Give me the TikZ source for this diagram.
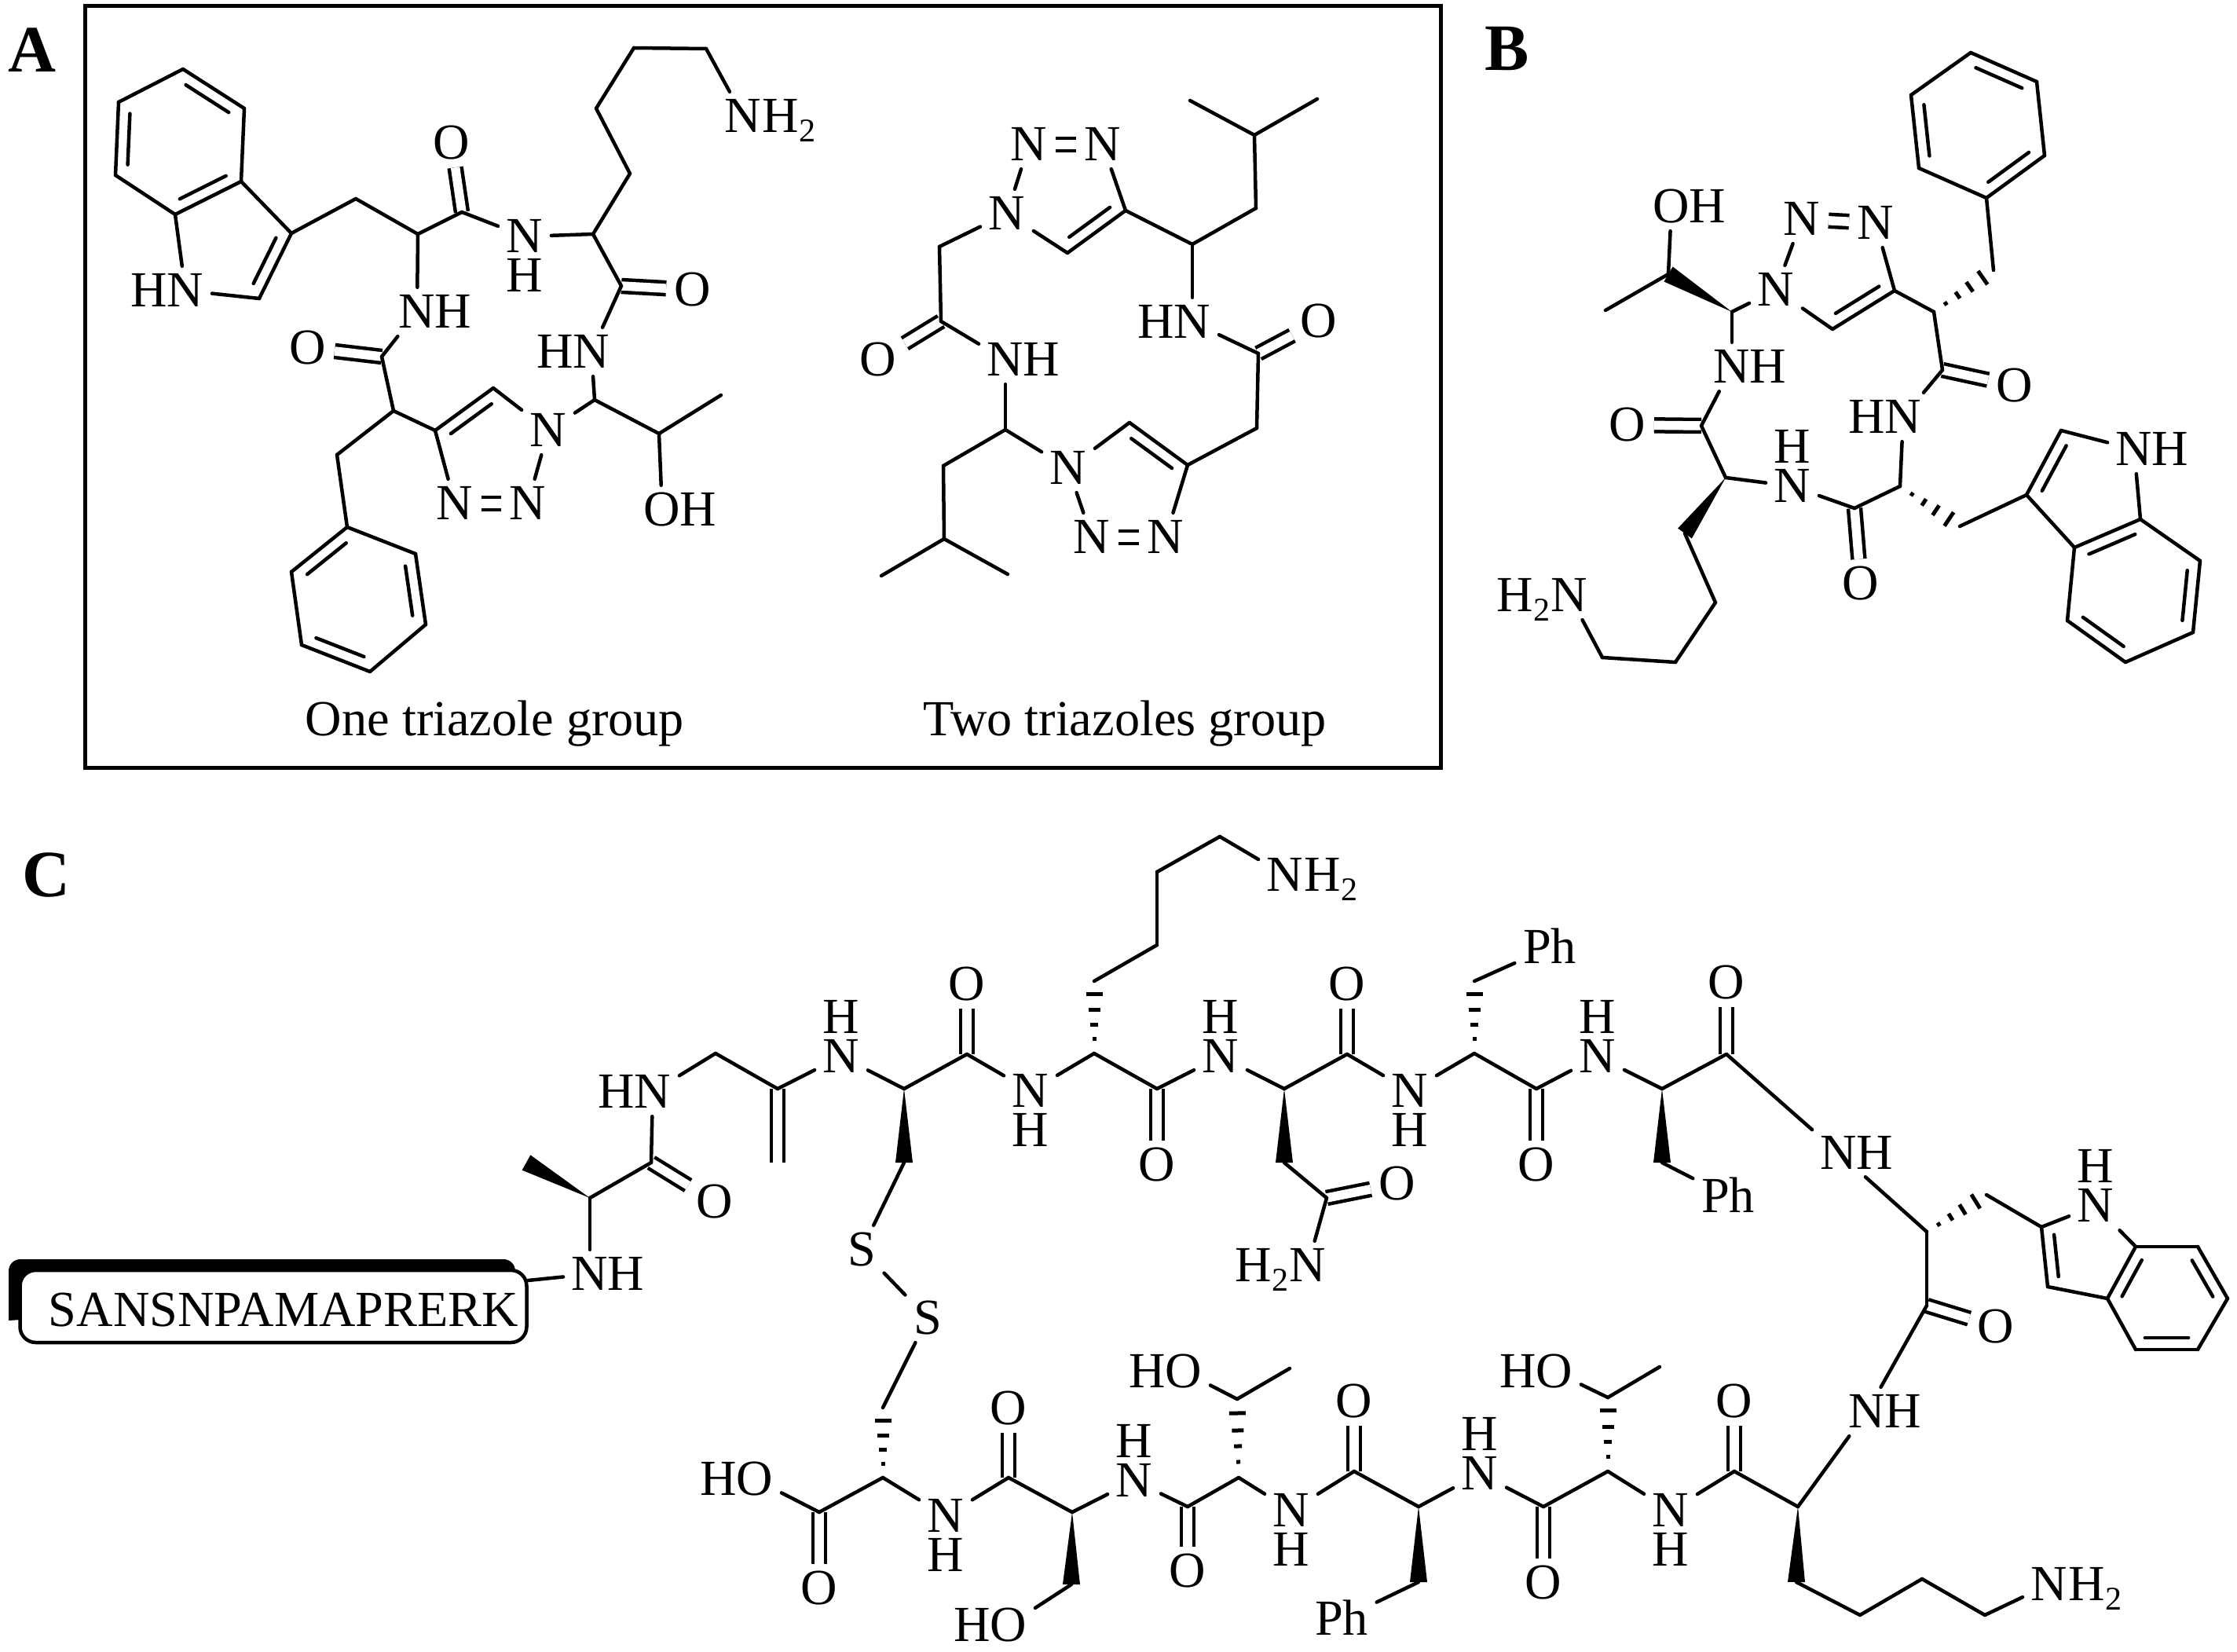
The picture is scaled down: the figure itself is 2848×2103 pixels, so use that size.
\documentclass[tikz,border=0pt]{standalone}
\usepackage{fontspec}
\setmainfont{Liberation Serif}
\usetikzlibrary{positioning,calc}

\newcommand{\subtwo}{\raisebox{-1.2mm}{\fontsize{12}{12}\selectfont 2}}
% N with its H stacked above or below, as one text
\newcommand{\nup}{N\llap{\raisebox{5mm}[0pt][0pt]{H}}}
\newcommand{\ndown}{N\llap{\raisebox{-5mm}[0pt][0pt]{H}}}
% second line of a ring double bond, on the left of #1 -> #2
\newcommand{\ringdbl}[2]{\draw[bond] ($(#1)!0.15!(#2)!1.5mm!90:(#2)$) -- ($(#2)!0.15!(#1)!1.5mm!-90:(#1)$);}
\newcommand{\wedgebond}[2]{\fill (#1) -- ($(#2)!1.1mm!90:(#1)$) -- ($(#2)!1.1mm!-90:(#1)$) -- cycle;}
\newcommand{\hashbond}[2]{\foreach \f/\w in {0.2/0.25,0.4/0.5,0.6/0.75,0.82/1.05} {
    \draw[hash] ($(#1)!\f!(#2)!\w mm!90:(#2)$) -- ($(#1)!\f!(#2)!\w mm!-90:(#2)$);
}}

\tikzset{
  atom/.style={inner sep=1mm,text height=4.1mm,text depth=0pt,font=\fontsize{18.3}{18.3}\selectfont},
  htail/.style={atom,inner sep=0pt},
  caption/.style={inner sep=0pt,font=\fontsize{18.3}{18.3}\selectfont},
  panel/.style={inner sep=0pt,font=\fontsize{24}{24}\selectfont\bfseries},
  bond/.style={line width=0.45mm,line cap=round},
  dblbond/.style={line width=0.45mm,line cap=butt,double,double distance=1.15mm},
  hash/.style={line width=0.5mm},
  frame/.style={line width=0.5mm},
  seqbox/.style={draw,line width=0.45mm,fill=white,rounded corners=2mm,minimum width=64.5mm,minimum height=9.2mm,inner sep=0pt}
}

\begin{document}
\begin{tikzpicture}[x=0.1mm,y=-0.1mm]
  \useasboundingbox (0,0) rectangle (2848,2103);
  \draw[frame] (108,8) rectangle (1834,977);
  \node[panel] (lblA) at (41,64) {A};
  \node[panel] (lblB) at (1919,62) {B};
  \node[panel] (lblC) at (59,1114) {C};
  \node[caption] (capone) at (630,921) {One triazole group};
  \node[caption] (captwo) at (1432,921) {Two triazoles group};

  % Panel A, one triazole
  \foreach \n/\x/\y in {a1/233/88,a2/311/138,a3/307/231,a4/223/273,a5/147/223,a6/151/130,
    a7/371/297,a8/330/380,a9/453/253,a10/532/298,a11/588/270,a12/755/298,a13/802/221,a14/759/138,
    a15/807/61,a16/899/62,a17/791/364,a18/757/509,a19/839/552,a20/918/503,a21/628/494,a22/554/548,
    a23/501/523,a24/486/454,a25/429/579,a26/442/671,a27/529/705,a28/542/795,a29/471/855,a30/384/821,a31/371/728} {
    \coordinate (\n) at (\x,\y);
  }
  \foreach \n/\x/\y/\lab in {an1/236/370/N,an2/668/301/\ndown,an3/946/148/N,
    ao1/575/182/O,ao2/882/369/O,an4/753/448/N,an5/698/548/N,an6/672/641/N,an7/579/641/N,
    ao3/843/649/O,an8/531/397/N,ao4/392/443/O} {
    \node[atom] (\n) at (\x,\y) {\lab};
  }
  \foreach \n/\x/\y in {an1h/190/370,an4h/707/448,ao3h/889/649,an8h/577/397} {
    \node[htail] (\n) at (\x,\y) {H};
  }
  \node[htail,right=-1mm of an3] (an3h) {H\subtwo};
  \foreach \p/\q in {a11/ao1,a17/ao2,a24/ao4,an6/an7} {
    \draw[dblbond] (\p) -- (\q);
  }
  \foreach \p/\q in {a1/a2,a2/a3,a3/a4,a4/a5,a5/a6,a6/a1,a3/a7,a7/a8,a8/an1,an1/a4,a7/a9,a9/a10,a10/a11,
    a11/an2,an2/a12,a12/a13,a13/a14,a14/a15,a15/a16,a16/an3,a12/a17,a17/an4,an4/a18,a18/an5,a18/a19,
    a19/a20,a19/ao3,an5/a21,a21/a22,a22/an7,an6/an5,a22/a23,a23/a24,a24/an8,an8/a10,a23/a25,a25/a26,
    a26/a27,a27/a28,a28/a29,a29/a30,a30/a31,a31/a26} {
    \draw[bond] (\p) -- (\q);
  }
  \foreach \p/\q in {a2/a1,a4/a3,a6/a5,a8/a7,a21/a22,a26/a31,a28/a27,a30/a29} {
    \ringdbl{\p}{\q}
  }

  % Panel A, two triazoles
  \foreach \n/\x/\y in {t1/1515/128,t2/1677/126,t3/1597/172,t4/1599/265,t5/1518/311,t6/1433/268,t7/1359/322,
    t8/1196/314,t9/1198/409,t10/1280/547,t11/1201/593,t12/1202/686,t13/1122/733,t14/1283/731,t15/1438/538,
    t16/1512/592,t17/1600/545,t18/1602/450} {
    \coordinate (\n) at (\x,\y);
  }
  \foreach \n/\x/\y/\lab in {tn1/1282/272/N,tn2/1310/184/N,tn3/1404/184/N,tn4/1518/410/N,
    to1/1118/458/O,tn5/1280/458/N,tn6/1360/596/N,tn7/1390/684/N,tn8/1484/684/N,to2/1679/409/O} {
    \node[atom] (\n) at (\x,\y) {\lab};
  }
  \foreach \n/\x/\y in {tn4h/1472/410,tn5h/1326/458} {
    \node[htail] (\n) at (\x,\y) {H};
  }
  \foreach \p/\q in {t9/to1,t18/to2,tn2/tn3,tn7/tn8} {
    \draw[dblbond] (\p) -- (\q);
  }
  \foreach \p/\q in {t1/t3,t2/t3,t3/t4,t4/t5,t5/tn4,t5/t6,t6/tn3,tn2/tn1,tn1/t7,t7/t6,tn1/t8,t8/t9,t9/tn5,
    tn5/t10,t10/t11,t11/t12,t12/t13,t12/t14,t10/tn6,tn6/tn7,tn8/t16,t16/t15,t15/tn6,t16/t17,t17/t18,t18/tn4} {
    \draw[bond] (\p) -- (\q);
  }
  \foreach \p/\q in {t7/t6,t16/t15} {
    \ringdbl{\p}{\q}
  }

  % Panel B
  \foreach \n/\x/\y in {b1/2509/67,b2/2593/104,b3/2603/198,b4/2529/252,b5/2443/214,b6/2433/121,b7/2538/344,
    b8/2462/397,b9/2412/370,b10/2333/419,b11/2473/471,b12/2419/619,b13/2361/647,b14/2495/670,b15/2580/630,
    b16/2624/548,b17/2725/661,b18/2641/697,b19/2632/790,b20/2706/843,b21/2792/805,b22/2801/714,b23/2197/608,
    b24/2166/542,b25/2205/397,b26/2124/349,b27/2044/395,b28/2145/679,b29/2184/767,b30/2133/843,b31/2040/837} {
    \coordinate (\n) at (\x,\y);
  }
  \foreach \n/\x/\y/\lab in {bn1/2261/369/N,bn2/2294/279/N,bn3/2388/284/N,bo1/2565/491/O,bn4/2423/531/N,
    bn5/2282/619/\nup,bo2/2369/743/O,bn6/2717/572/N,bn7/2205/467/N,bo3/2072/541/O,bo4/2128/263/O,bn8/1998/758/N} {
    \node[atom] (\n) at (\x,\y) {\lab};
  }
  \foreach \n/\x/\y in {bn4h/2377/531,bn6h/2763/572,bn7h/2251/467,bo4h/2174/263} {
    \node[htail] (\n) at (\x,\y) {H};
  }
  \node[htail,left=-1mm of bn8] (bn8h) {H\subtwo};
  \foreach \p/\q in {b11/bo1,b13/bo2,b24/bo3,bn2/bn3} {
    \draw[dblbond] (\p) -- (\q);
  }
  \foreach \p/\q in {b1/b2,b2/b3,b3/b4,b4/b5,b5/b6,b6/b1,b4/b7,b8/b9,b9/b10,b10/bn1,bn1/bn2,bn3/b9,b8/b11,
    b11/bn4,bn4/b12,b12/b13,b13/bn5,bn5/b23,b14/b15,b15/b16,b16/bn6,bn6/b17,b17/b18,b18/b15,b18/b19,b19/b20,
    b20/b21,b21/b22,b22/b17,b23/b24,b24/bn7,bn7/b25,b25/bn1,b26/bo4,b26/b27,b28/b29,b29/b30,b30/b31,b31/bn8} {
    \draw[bond] (\p) -- (\q);
  }
  \foreach \p/\q in {b2/b1,b4/b3,b6/b5,b10/b9,b16/b15,b17/b18,b19/b20,b21/b22} {
    \ringdbl{\p}{\q}
  }
  \foreach \p/\q in {b25/b26,b23/b28} {
    \wedgebond{\p}{\q}
  }
  \foreach \p/\q in {b8/b7,b12/b14} {
    \hashbond{\p}{\q}
  }

  % Panel C
  \fill (11,1681) [rounded corners=1.5mm] -- (11,1603) -- (656,1603) [sharp corners] -- (656,1640) -- cycle;
  \node[seqbox] (cbox) at (348,1663) {};
  \node[caption] (cseq) at (361,1668) {SANSNPAMAPRERK};
  \foreach \n/\x/\y in {c1/751/1525,c2/670/1480,c3/829/1480,c4/911/1341,c5/990/1386,c6/990/1480,c7/1151/1386,
    c8/1231/1342,c9/1393/1341,c10/1393/1249,c11/1473/1203,c12/1473/1110,c13/1553/1065,c14/1473/1386,c15/1635/1386,
    c16/1635/1480,c17/1689/1525,c18/1715/1342,c19/1877/1341,c20/1877/1249,c21/1956/1386,c22/2116/1386,c23/2116/1480,
    c24/2198/1342,c25/2453/1568,c26/2529/1521,c27/2599/1562,c28/2607/1638,c29/2683/1653,c30/2719/1587,c31/2798/1587,
    c32/2836/1653,c33/2798/1718,c34/2719/1718,c35/2453/1662,c36/2289/1918,c37/2287/2014,c38/2368/2056,c39/2447/2010,
    c40/2527/2056,c41/2208/1873,c42/2047/1873,c43/2047/1779,c44/2113/1740,c45/1965/1918,c46/1806/1918,c47/1806/2014,
    c48/1724/1873,c49/1577/1881,c50/1575/1781,c51/1642/1742,c52/1512/1918,c53/1365/1925,c54/1364/2017,c55/1284/1881,
    c56/1124/1881,c57/1124/1792,c58/1043/1925,c59/1151/1480} {
    \coordinate (\n) at (\x,\y);
  }
  \foreach \n/\x/\y/\lab in {cn1/751/1622/N,co1/910/1530/O,cn2/831/1390/N,cn3/1071/1345/\nup,co2/1231/1253/O,
    cn4/1312/1389/\ndown,co3/1473/1483/O,cn5/1636/1114/N,cn6/1554/1345/\nup,co4/1715/1253/O,co5/1779/1507/O,cn7/1665/1611/N,
    cn8/1795/1389/\ndown,cph1/1973/1206/Ph,co6/1956/1483/O,cn9/2034/1345/\nup,cph2/2200/1523/Ph,co7/2198/1251/O,
    cn10/2341/1468/N,cn11/2668/1535/\nup,co8/2541/1689/O,cn12/2377/1797/N,cn13/2609/2017/N,co9/2208/1784/O,
    cn14/2127/1923/\ndown,co10/1979/1746/O,co11/1965/2015/O,cn15/1884/1876/\nup,cph3/1708/2061/Ph,co12/1724/1784/O,
    cn16/1644/1923/\ndown,co13/1507/1746/O,co14/1512/2000/O,cn17/1444/1885/\nup,co15/1284/2069/O,co16/1284/1793/O,
    cn18/1204/1930/\ndown,cs1/1097/1591/S,cs2/1181/1678/S,co17/1043/2022/O,co18/961/1883/O} {
    \node[atom] (\n) at (\x,\y) {\lab};
  }
  \foreach \n/\x/\y in {cn1h/797/1622,cn2h/785/1390,cn10h/2387/1468,cn12h/2423/1797,co10h/1933/1746,
    co13h/1461/1746,co15h/1238/2069,co18h/915/1883} {
    \node[htail] (\n) at (\x,\y) {H};
  }
  \node[htail,right=-1mm of cn5] (cn5h) {H\subtwo};
  \node[htail,right=-1mm of cn13] (cn13h) {H\subtwo};
  \node[htail,left=-1mm of cn7] (cn7h) {H\subtwo};
  \foreach \p/\q in {c3/co1,c5/c6,c8/co2,c14/co3,c18/co4,c17/co5,c21/co6,c24/co7,c35/co8,c41/co9,c45/co11,
    c48/co12,c52/co14,c55/co16,c58/co17} {
    \draw[dblbond] (\p) -- (\q);
  }
  \foreach \p/\q in {cbox/cn1,cn1/c1,c1/c3,c3/cn2,cn2/c4,c4/c5,c5/cn3,cn3/c7,c7/c8,c8/cn4,cn4/c9,c9/c14,c14/cn6,
    cn6/c15,c15/c18,c18/cn8,cn8/c19,c19/c21,c21/cn9,cn9/c22,c22/c24,c24/cn10,cn10/c25,c25/c35,c35/cn12,cn12/c36,
    c36/c41,c41/cn14,cn14/c42,c42/c45,c45/cn15,cn15/c46,c46/c48,c48/cn16,cn16/c49,c49/c52,c52/cn17,cn17/c53,
    c53/c55,c55/cn18,cn18/c56,c56/c58,c58/co18,c10/c11,c11/c12,c12/c13,c13/cn5,c16/c17,c17/cn7,c20/cph1,c23/cph2,
    c26/c27,c27/cn11,cn11/c30,c30/c29,c29/c28,c28/c27,c30/c31,c31/c32,c32/c33,c33/c34,c34/c29,c37/c38,c38/c39,
    c39/c40,c40/cn13,c43/co10,c43/c44,c47/cph3,c50/co13,c50/c51,c54/co15,c57/cs2,cs2/cs1,cs1/c59} {
    \draw[bond] (\p) -- (\q);
  }
  \foreach \p/\q in {c27/c28,c30/c29,c32/c31,c34/c33} {
    \ringdbl{\p}{\q}
  }
  \foreach \p/\q in {c1/c2,c7/c59,c15/c16,c22/c23,c36/c37,c46/c47,c53/c54} {
    \wedgebond{\p}{\q}
  }
  \foreach \p/\q in {c9/c10,c19/c20,c25/c26,c42/c43,c49/c50,c56/c57} {
    \hashbond{\p}{\q}
  }
\end{tikzpicture}
\end{document}
